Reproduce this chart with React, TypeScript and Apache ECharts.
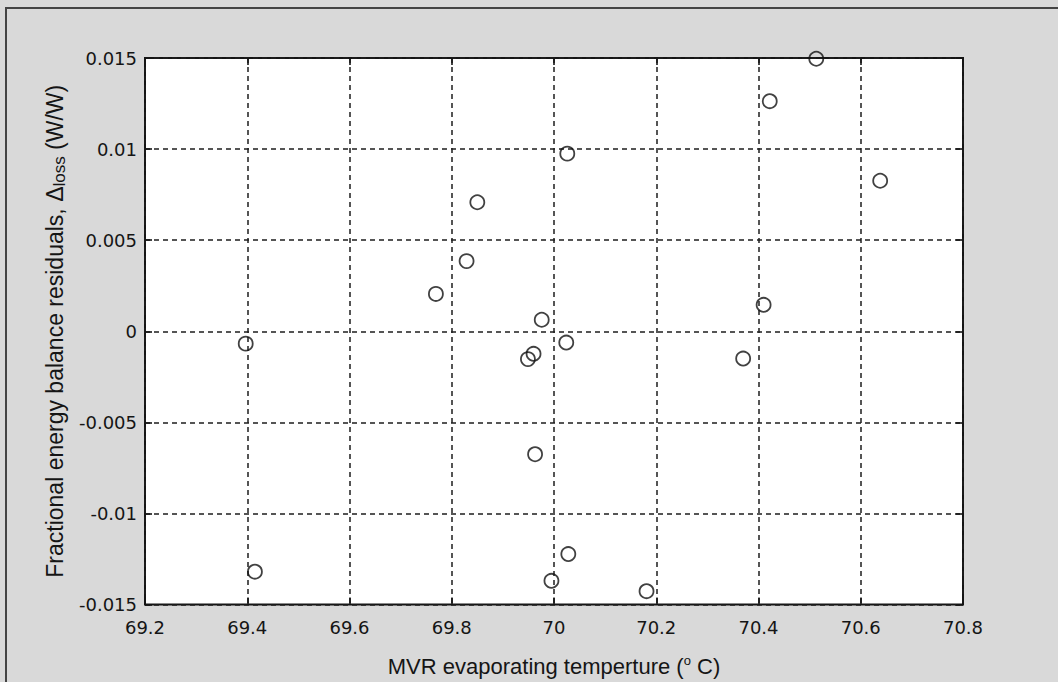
import React, { useEffect, useRef } from "react";
import * as echarts from "echarts";

const temperature = [
  69.397, 69.415, 69.769, 69.829, 69.85, 69.949, 69.96, 69.976, 69.963, 70.026,
  70.024, 70.028, 69.995, 70.181, 70.37, 70.41, 70.422, 70.513, 70.638,
];
const residual = [
  -0.00068, -0.0132, 0.00205, 0.00385, 0.00708, -0.00153, -0.00124, 0.00063, -0.00675, 0.00975,
  -0.00062, -0.01223, -0.0137, -0.01427, -0.0015, 0.00145, 0.01263, 0.01496, 0.00826,
];
const xTicks = { min: 69.2, max: 70.8, step: 0.2 };
const yTicks = { min: -0.015, max: 0.015, step: 0.005 };

const xTitle = "MVR evaporating temperture ({sup|o} C)";
const yTitle = "Fractional energy balance residuals, Δ{sub|loss} (W/W)";

const FONT = "Liberation Sans, Arial, sans-serif";
const TICKFONT = "DejaVu Sans, Liberation Sans, sans-serif";
const INK = "#151515";

export default function App() {
  const ref = useRef<HTMLDivElement>(null);
  useEffect(() => {
    if (!ref.current) return;
    const chart = echarts.init(ref.current, null, { renderer: "svg" });
    const points = temperature.map((t, i) => [t, residual[i]]);
    const gridLine = {
      show: true,
      lineStyle: { color: "#1e1e1e", width: 1.5, type: [5, 4] as any },
    };
    const tick = { show: true, inside: true, length: 7, lineStyle: { color: INK, width: 1.6 } };
    const baseX = {
      type: "value",
      min: xTicks.min,
      max: xTicks.max,
      interval: xTicks.step,
      axisLine: { show: false, onZero: false },
      axisTick: tick,
    };
    const baseY = {
      type: "value",
      min: yTicks.min,
      max: yTicks.max,
      interval: yTicks.step,
      axisLine: { show: false, onZero: false },
      axisTick: tick,
    };
    chart.setOption({
      animation: false,
      backgroundColor: "#d9d9d9",
      graphic: [
        {
          type: "rect",
          shape: { x: 6, y: 8, width: 1100, height: 700 },
          style: { fill: "transparent", stroke: "#444", lineWidth: 2 },
          silent: true,
          z: 100,
        },
      ],
      grid: {
        left: 145,
        top: 58,
        width: 818,
        height: 550,
        show: true,
        backgroundColor: "#ffffff",
        borderColor: INK,
        borderWidth: 2,
      },
      xAxis: [
        {
          ...baseX,
          position: "bottom",
          splitLine: gridLine,
          axisLabel: {
            margin: 14,
            color: INK,
            fontFamily: TICKFONT,
            fontSize: 18,
            formatter: (v: number) => String(+v.toFixed(1)),
          },
          name: xTitle,
          nameLocation: "middle",
          nameGap: 49,
          nameTextStyle: {
            color: INK,
            fontFamily: FONT,
            fontSize: 22,
            rich: {
              sup: { fontSize: 13, fontFamily: FONT, color: INK, padding: [0, 0, 12, 0] },
            },
          },
        },
        {
          ...baseX,
          position: "top",
          splitLine: { show: false },
          axisLabel: { show: false },
        },
      ],
      yAxis: [
        {
          ...baseY,
          position: "left",
          splitLine: gridLine,
          axisLabel: {
            margin: 8,
            color: INK,
            fontFamily: TICKFONT,
            fontSize: 18,
            formatter: (v: number) => String(+v.toFixed(3)),
          },
          name: yTitle,
          nameLocation: "middle",
          nameGap: 76,
          nameTextStyle: {
            color: INK,
            fontFamily: FONT,
            fontSize: 23,
            rich: {
              sub: { fontSize: 17, fontFamily: FONT, color: INK, padding: [10, 0, 0, 0] },
            },
          },
        },
        {
          ...baseY,
          position: "right",
          splitLine: { show: false },
          axisLabel: { show: false },
        },
      ],
      series: [
        {
          type: "scatter",
          data: points,
          symbol: "circle",
          symbolSize: 14,
          itemStyle: { color: "transparent", borderColor: "#111", borderWidth: 1.8 },
          z: 5,
        },
      ],
    });
    return () => chart.dispose();
  }, []);
  return (
    <div
      ref={ref}
      style={{ position: "fixed", left: 0, top: 0, width: 1058, height: 682 }}
    />
  );
}
